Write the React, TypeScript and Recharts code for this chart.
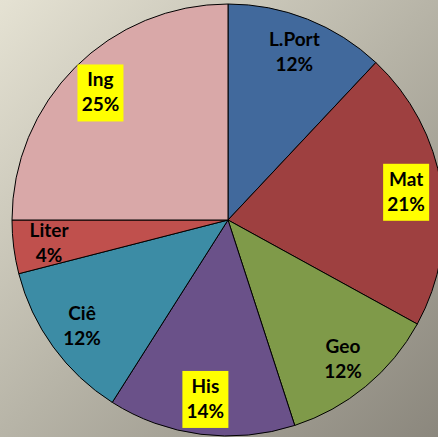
import React from 'react';
import { PieChart, Pie, Cell } from 'recharts';

const subjects = ['L.Port', 'Mat', 'Geo', 'His', 'Ciê', 'Liter', 'Ing'];
const shares = [12, 21, 12, 14, 12, 4, 25];
const sliceColors = ['#41699c', '#9e4040', '#7f9a49', '#6a5189', '#3c8ca5', '#c0504d', '#d9a8a8'];
const highlighted = ['Mat', 'His', 'Ing'];

const data = subjects.map((name, i) => ({ name, value: shares[i] }));

const RAD = Math.PI / 180;

// label text sits inside the slice, highlighted ones get a yellow box
const renderLabel = (props: any) => {
    const { cx, cy, midAngle, outerRadius, name, percent } = props;
    const r = outerRadius * 0.835;
    const x = cx + r * Math.cos(-midAngle * RAD);
    const y = cy + r * Math.sin(-midAngle * RAD);
    const pct = `${Math.round(percent * 100)}%`;
    const boxed = highlighted.includes(name);
    return (
        <g>
            {boxed && <rect x={x - 23} y={y - 28} width={46} height={57} fill="#ffff00" />}
            <text
                x={x}
                y={y}
                textAnchor="middle"
                fontFamily="Lato, 'Open Sans', sans-serif"
                fontWeight="bold"
                fontSize={19}
                fill="#000"
            >
                <tspan x={x} dy={-6}>{name}</tspan>
                <tspan x={x} dy={25}>{pct}</tspan>
            </text>
        </g>
    );
};

export default function App() {
    return (
        <div
            style={{
                position: 'absolute',
                left: 0,
                top: 0,
                width: 438,
                height: 437,
                overflow: 'hidden',
                background: 'linear-gradient(135deg, #e5e2d3 0%, #b7b4a7 50%, #8b877d 100%)',
            }}
        >
            <PieChart width={438} height={437} margin={{ top: 0, right: 0, bottom: 0, left: 0 }}>
                <Pie
                    data={data}
                    dataKey="value"
                    nameKey="name"
                    cx={228}
                    cy={220}
                    outerRadius={216}
                    startAngle={90}
                    endAngle={-270}
                    stroke="#000"
                    strokeWidth={1}
                    label={renderLabel}
                    labelLine={false}
                    isAnimationActive={false}
                >
                    {data.map((d, i) => (
                        <Cell key={d.name} fill={sliceColors[i]} />
                    ))}
                </Pie>
            </PieChart>
        </div>
    );
}
